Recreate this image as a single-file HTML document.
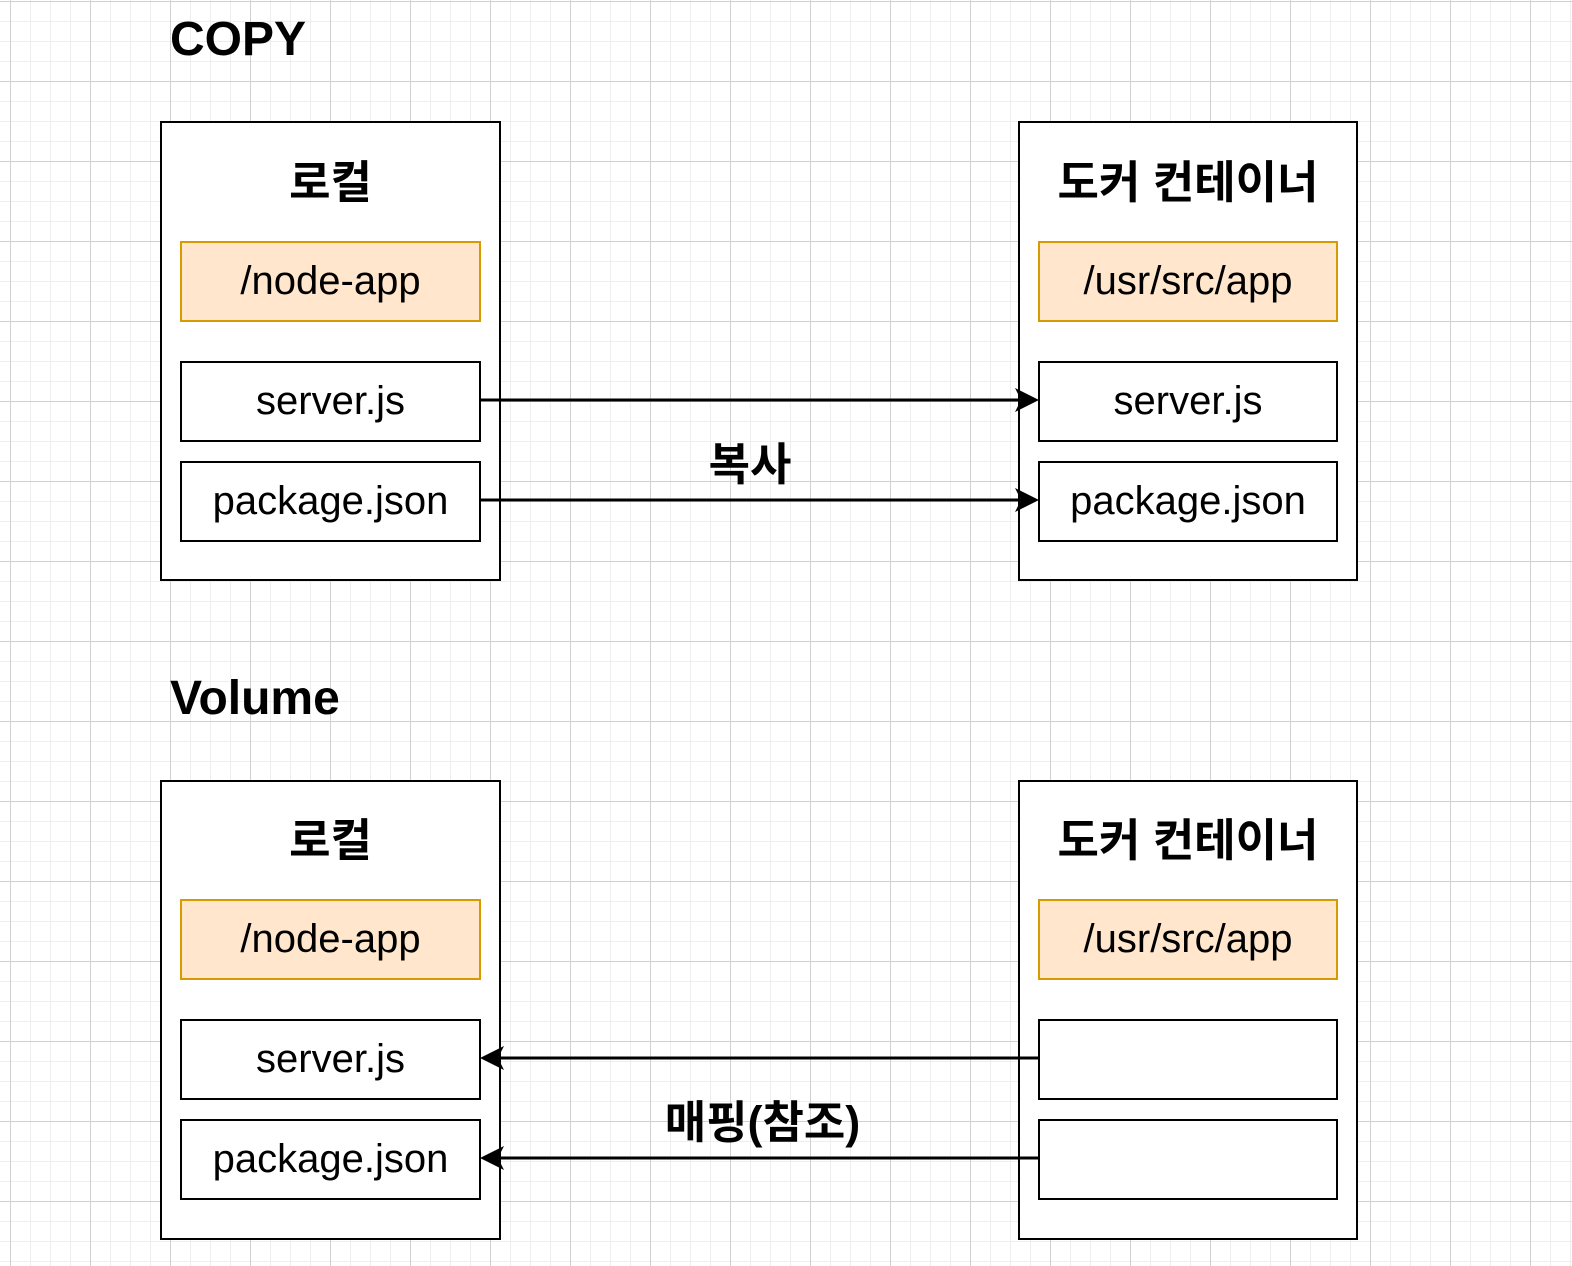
<!DOCTYPE html>
<html><head><meta charset="utf-8"><style>
html,body{margin:0;padding:0}
body{width:1572px;height:1266px;overflow:hidden;background:#fff;
background-image:
linear-gradient(to right,#d0d0d0 1px,transparent 1px),
linear-gradient(to bottom,#d0d0d0 1px,transparent 1px),
linear-gradient(to right,#eeeeee 1px,transparent 1px),
linear-gradient(to bottom,#eeeeee 1px,transparent 1px);
background-size:80px 80px,80px 80px,20px 20px,20px 20px;
background-position:10px 1px,10px 1px,10px 1px,10px 1px;
font-family:"Liberation Sans","Noto Sans CJK KR",sans-serif;position:relative}
.b{position:absolute;box-sizing:border-box;border:2px solid #000;background:#fff}
.i{position:absolute;box-sizing:border-box;border:2px solid #000;background:#fff;display:flex;align-items:center;justify-content:center;font-size:40px;color:#000}
.o{background:#ffe6cc;border-color:#d79b00}
.t{position:absolute;font-weight:bold;font-size:48px;color:#000;white-space:nowrap}
.h{position:absolute;font-weight:bold;font-size:45px;text-align:center;white-space:nowrap}
</style></head><body>
<div class="t" style="left:170px;top:12px">COPY</div>
<div class="t" style="left:170px;top:671px">Volume</div>

<div class="b" style="left:160px;top:121px;width:341px;height:460px"></div>
<div class="h" style="left:160px;top:146px;width:341px">로컬</div>
<div class="i o" style="left:180px;top:241px;width:301px;height:81px">/node-app</div>
<div class="i" style="left:180px;top:361px;width:301px;height:81px">server.js</div>
<div class="i" style="left:180px;top:461px;width:301px;height:81px">package.json</div>

<div class="b" style="left:1018px;top:121px;width:340px;height:460px"></div>
<div class="h" style="left:1018px;top:146px;width:340px">도커 컨테이너</div>
<div class="i o" style="left:1038px;top:241px;width:300px;height:81px">/usr/src/app</div>
<div class="i" style="left:1038px;top:361px;width:300px;height:81px">server.js</div>
<div class="i" style="left:1038px;top:461px;width:300px;height:81px">package.json</div>

<div class="b" style="left:160px;top:780px;width:341px;height:460px"></div>
<div class="h" style="left:160px;top:804px;width:341px">로컬</div>
<div class="i o" style="left:180px;top:899px;width:301px;height:81px">/node-app</div>
<div class="i" style="left:180px;top:1019px;width:301px;height:81px">server.js</div>
<div class="i" style="left:180px;top:1119px;width:301px;height:81px">package.json</div>

<div class="b" style="left:1018px;top:780px;width:340px;height:460px"></div>
<div class="h" style="left:1018px;top:804px;width:340px">도커 컨테이너</div>
<div class="i o" style="left:1038px;top:899px;width:300px;height:81px">/usr/src/app</div>
<div class="i" style="left:1038px;top:1019px;width:300px;height:81px"></div>
<div class="i" style="left:1038px;top:1119px;width:300px;height:81px"></div>

<svg style="position:absolute;left:0;top:0" width="1572" height="1266">
<g stroke="#000" stroke-width="3" fill="none">
<line x1="481" y1="400" x2="1025" y2="400"/>
<line x1="481" y1="500" x2="1025" y2="500"/>
<line x1="1038" y1="1058" x2="494" y2="1058"/>
<line x1="1038" y1="1158" x2="494" y2="1158"/>
</g>
<g fill="#000">
<path d="M1039,400 L1015,388 L1021,400 L1015,412Z"/>
<path d="M1039,500 L1015,488 L1021,500 L1015,512Z"/>
<path d="M480,1058 L504,1046 L498,1058 L504,1070Z"/>
<path d="M480,1158 L504,1146 L498,1158 L504,1170Z"/>
</g>
</svg>
<div class="h" style="left:700px;top:428px;width:100px">복사</div>
<div class="h" style="left:640px;top:1086px;width:245px">매핑(참조)</div>
</body></html>
